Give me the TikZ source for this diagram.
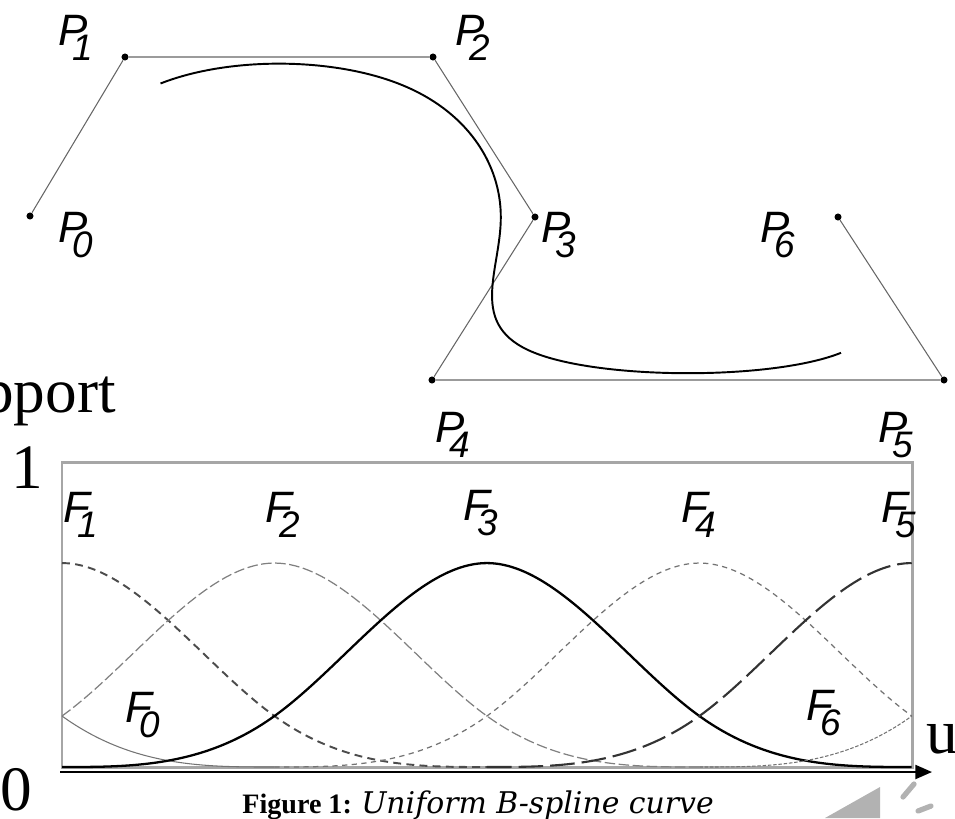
\documentclass[tikz,border=0pt]{standalone}
\usepackage{fontspec}
\setmainfont{Liberation Serif}
\newfontfamily\labfont{Liberation Sans}
\newfontfamily\capfont{DejaVu Serif}
\usetikzlibrary{arrows.meta}

% italic name with a low, tucked-in index
\newcommand{\ptname}[2]{\textit{#1}\kern-0.34em\raisebox{-0.36em}{\fontsize{21}{21}\selectfont\textit{#2}}}

\begin{document}
\begin{tikzpicture}[x=0.02cm, y=-0.02cm,
  declare function={bsp(\t)=(abs(\t)<1) ? (2/3-\t*\t+abs(\t)*abs(\t)*abs(\t)/2) : ((abs(\t)<2) ? ((2-abs(\t))*(2-abs(\t))*(2-abs(\t))/6) : 0);},
  ctrlpt/.style={circle, fill=black, inner sep=0pt, minimum size=4pt},
  poly/.style={draw=black!60, line width=0.6pt},
  bspl/.style={draw=black, line width=1.1pt},
  ptlab/.style={anchor=base west, inner sep=0pt, font=\labfont\fontsize{25}{25}\selectfont},
  bigtxt/.style={inner sep=0pt, font=\fontsize{36}{36}\selectfont},
  frame/.style={draw=black!35, line width=1.7pt},
  axis/.style={draw=black, line width=1.2pt, -{Triangle[length=9.5pt,width=8pt]}},
  bf0/.style={draw=black!55, line width=0.6pt},
  bf1/.style={draw=black!70, line width=1.1pt, dash pattern=on 4.5pt off 3pt},
  bf2/.style={draw=black!50, line width=0.7pt, dash pattern=on 6pt off 2pt},
  bf3/.style={draw=black, line width=1.3pt},
  bf4/.style={draw=black!55, line width=0.7pt, dash pattern=on 3pt off 2.5pt},
  bf5/.style={draw=black!80, line width=1.2pt, dash pattern=on 14pt off 4pt},
  bf6/.style={draw=black!55, line width=0.6pt, dash pattern=on 2pt off 1pt}
]
\useasboundingbox (0,0) rectangle (955,818);

% control polygon
\node[ctrlpt] (p0) at (30,216) {};
\node[ctrlpt] (p1) at (125,57) {};
\node[ctrlpt] (p2) at (433,57) {};
\node[ctrlpt] (p3) at (535,217) {};
\node[ctrlpt] (p4) at (432,380) {};
\node[ctrlpt] (p5) at (944,380) {};
\node[ctrlpt] (p6) at (838,217) {};
\draw[poly] (p0) -- (p1) -- (p2) -- (p3) -- (p4) -- (p5) -- (p6);

\node[ptlab] (lp0) at (58,242) {\ptname{P}{0}};
\node[ptlab] (lp1) at (58,45)  {\ptname{P}{1}};
\node[ptlab] (lp2) at (455,45) {\ptname{P}{2}};
\node[ptlab] (lp3) at (541,242) {\ptname{P}{3}};
\node[ptlab] (lp4) at (435,442) {\ptname{P}{4}};
\node[ptlab] (lp5) at (878,442) {\ptname{P}{5}};
\node[ptlab] (lp6) at (760,242) {\ptname{P}{6}};

% the curve, four cubic pieces
\draw[bspl] (160.5,83.5) .. controls (227.7,57) and (330.3,57) .. (398.7,83.7)
  .. controls (467,110.3) and (501,163.7) .. (500.8,217.5)
  .. controls (500.7,271.3) and (466.3,325.7) .. (534.5,352.8)
  .. controls (602.7,380) and (773.3,380) .. (841,352.8);

% basis functions
\draw[frame] (62,462) rectangle (912,767);
\begin{scope}[shift={(62,767)}, x=4.25cm, y=6.12cm]
  \draw[bf0] plot[domain=0:1, samples=40, smooth] (\x,{bsp(\x+1)});
  \draw[bf1] plot[domain=0:2, samples=60, smooth] (\x,{bsp(\x)});
  \draw[bf2] plot[domain=0:3, samples=80, smooth] (\x,{bsp(\x-1)});
  \draw[bf3] plot[domain=0:4, samples=100, smooth] (\x,{bsp(\x-2)});
  \draw[bf4] plot[domain=1:4, samples=80, smooth] (\x,{bsp(\x-3)});
  \draw[bf5] plot[domain=2:4, samples=60, smooth] (\x,{bsp(\x-4)});
  \draw[bf6] plot[domain=3:4, samples=40, smooth] (\x,{bsp(\x-5)});
\end{scope}

\node[ptlab] (lf0) at (125,722) {\ptname{F}{0}};
\node[ptlab] (lf1) at (63,522)  {\ptname{F}{1}};
\node[ptlab] (lf2) at (265,522) {\ptname{F}{2}};
\node[ptlab] (lf3) at (463,520) {\ptname{F}{3}};
\node[ptlab] (lf4) at (681,522) {\ptname{F}{4}};
\node[ptlab] (lf5) at (881,522) {\ptname{F}{5}};
\node[ptlab] (lf6) at (806,720) {\ptname{F}{6}};

\coordinate (ax0) at (60,772);
\coordinate (ax1) at (932,772);
\draw[axis] (ax0) -- (ax1);

\node[bigtxt, anchor=base east] (supp) at (116,412) {Support};
\node[bigtxt, anchor=base west] (one) at (11,488) {1};
\node[bigtxt, anchor=base west] (zero) at (0,810) {0};
\node[bigtxt, anchor=base west] (uvar) at (926,753) {u};

\node[anchor=base west, inner sep=0pt, font=\fontsize{16}{16}\selectfont] (capt) at (242,813)
  {\textbf{Figure 1:} {\capfont\fontsize{17}{17}\selectfont\itshape Uniform B-spline curve}};

% sound icon, cut at the edge
\fill[black!30] (825,818) -- (880,787) -- (880,818) -- cycle;
\draw[black!30, line width=3pt, line cap=round] (903,797) -- (914,784);
\draw[black!30, line width=3pt, line cap=round] (918,811) -- (931,806);
\end{tikzpicture}
\end{document}
